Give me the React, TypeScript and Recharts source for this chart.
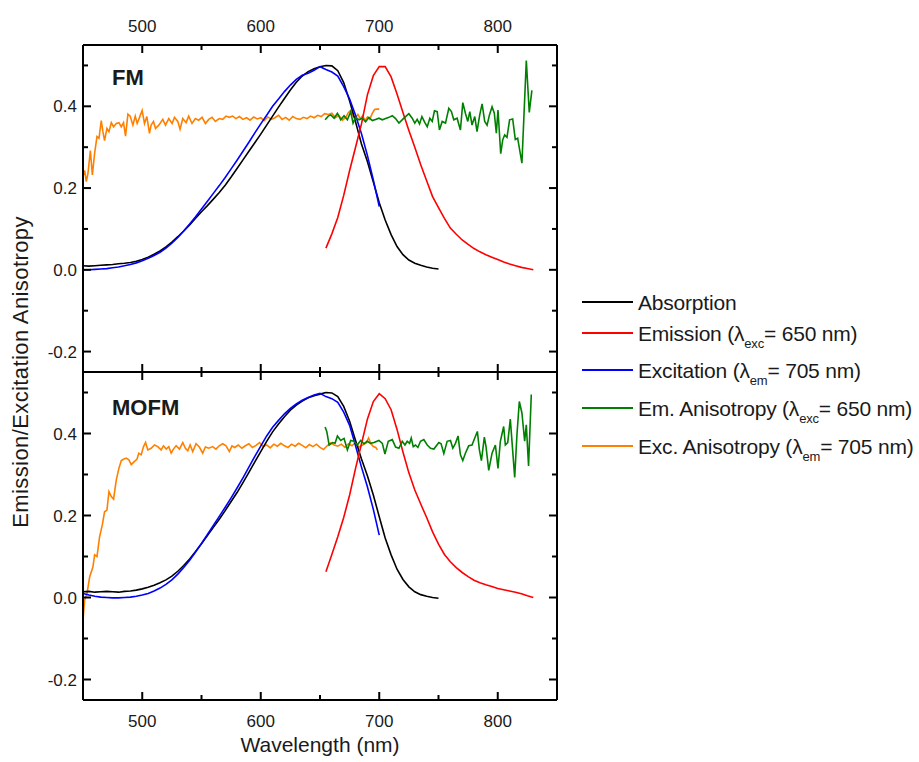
import React from "react";
import { LineChart, Line, XAxis, YAxis } from "recharts";

const FONT = "'Liberation Sans', Arial, sans-serif";
const INK = "#1a1a1a";

const X_MAJOR = [500, 600, 700, 800];
const X_MINOR = [550, 650, 750];
const Y_MAJOR = [-0.2, 0, 0.2, 0.4];
const Y_MINOR = [-0.1, 0.1, 0.3, 0.5];
const X_TICKS = [500, 550, 600, 650, 700, 750, 800];
const Y_TICKS = [-0.2, -0.1, 0, 0.1, 0.2, 0.3, 0.4, 0.5];

// wavelength grids (nm)
const WL_ABS = [450, 455, 460, 465, 470, 475, 480, 485, 490, 495, 500, 505, 510, 515, 520, 525, 530, 535, 540, 545, 550, 555, 560, 565, 570, 575, 580, 585, 590, 595, 600, 605, 610, 615, 620, 625, 630, 635, 640, 645, 650, 655, 660, 665, 670, 675, 680, 685, 690, 695, 700, 705, 710, 715, 720, 725, 730, 735, 740, 745, 750];
const WL_EXC = [450, 455, 460, 465, 470, 475, 480, 485, 490, 495, 500, 505, 510, 515, 520, 525, 530, 535, 540, 545, 550, 555, 560, 565, 570, 575, 580, 585, 590, 595, 600, 605, 610, 615, 620, 625, 630, 635, 640, 645, 650, 655, 660, 665, 670, 675, 680, 685, 690, 695, 700];
const WL_EMI = [655, 660, 665, 670, 675, 680, 685, 690, 695, 700, 705, 710, 715, 720, 725, 730, 735, 740, 745, 750, 755, 760, 765, 770, 775, 780, 785, 790, 795, 800, 805, 810, 815, 820, 825, 830];

// FM
const FM_ABS = [0.010, 0.009, 0.010, 0.011, 0.012, 0.013, 0.015, 0.016, 0.018, 0.021, 0.025, 0.031, 0.038, 0.046, 0.056, 0.068, 0.081, 0.095, 0.110, 0.126, 0.142, 0.157, 0.173, 0.189, 0.207, 0.227, 0.248, 0.269, 0.290, 0.311, 0.332, 0.354, 0.376, 0.398, 0.419, 0.440, 0.459, 0.474, 0.485, 0.492, 0.497, 0.500, 0.499, 0.487, 0.458, 0.413, 0.362, 0.308, 0.265, 0.215, 0.164, 0.122, 0.086, 0.057, 0.037, 0.024, 0.016, 0.011, 0.007, 0.004, 0.002];
const FM_EXC = [0.000, 0.000, 0.001, 0.002, 0.003, 0.005, 0.007, 0.010, 0.013, 0.017, 0.022, 0.028, 0.035, 0.043, 0.053, 0.065, 0.079, 0.095, 0.112, 0.130, 0.149, 0.168, 0.187, 0.206, 0.226, 0.247, 0.268, 0.290, 0.312, 0.335, 0.357, 0.378, 0.400, 0.418, 0.436, 0.452, 0.466, 0.476, 0.481, 0.488, 0.497, 0.490, 0.484, 0.474, 0.448, 0.418, 0.378, 0.333, 0.280, 0.220, 0.155];
const FM_EMI = [0.053, 0.088, 0.128, 0.182, 0.243, 0.300, 0.357, 0.428, 0.475, 0.497, 0.497, 0.472, 0.430, 0.385, 0.341, 0.300, 0.257, 0.218, 0.179, 0.152, 0.126, 0.102, 0.087, 0.073, 0.062, 0.052, 0.044, 0.037, 0.031, 0.025, 0.019, 0.014, 0.010, 0.006, 0.003, 0.000];
const FM_EMANI_WL = [654.3, 657, 659.1, 661.9, 664.7, 667.5, 670.3, 673.1, 675.9, 677.9, 680.1, 682.9, 685.7, 688.5, 691.3, 694.1, 696.9, 699.7, 702.6, 705.4, 708.2, 711, 713.8, 716.6, 720.8, 725, 727.8, 730, 732, 734, 736, 738.5, 740.5, 742.7, 744.7, 746.6, 748.9, 750.8, 753.1, 755.9, 758.7, 760.9, 762.9, 765.7, 768.5, 770.5, 772.7, 774.7, 776.4, 778.3, 780.6, 782.5, 784.8, 786.8, 789, 791, 793, 795.2, 797.1, 798.8, 800.2, 802.5, 804.2, 805.8, 807.8, 810, 812.6, 814.8, 816.8, 820.4, 824.1, 826.6, 828.8];
const FM_EMANI = [0.367, 0.376, 0.379, 0.371, 0.383, 0.367, 0.377, 0.367, 0.387, 0.359, 0.373, 0.367, 0.371, 0.362, 0.373, 0.365, 0.368, 0.371, 0.367, 0.370, 0.373, 0.377, 0.370, 0.359, 0.371, 0.382, 0.371, 0.359, 0.368, 0.357, 0.375, 0.360, 0.350, 0.371, 0.363, 0.389, 0.387, 0.342, 0.363, 0.359, 0.395, 0.387, 0.367, 0.371, 0.342, 0.409, 0.383, 0.363, 0.387, 0.354, 0.375, 0.338, 0.379, 0.406, 0.363, 0.354, 0.379, 0.399, 0.383, 0.334, 0.391, 0.284, 0.318, 0.330, 0.324, 0.367, 0.369, 0.319, 0.322, 0.261, 0.512, 0.385, 0.439];
const FM_EXANI_WL = [450, 451.4, 452.8, 454.2, 456.2, 457.9, 459.8, 461.8, 463.5, 465.4, 466.8, 468.2, 470.2, 471.9, 473.9, 475.8, 478.1, 480.3, 482.3, 484.2, 485.9, 487.9, 489.8, 492.1, 494.1, 495.7, 497.7, 499.9, 501.9, 503.9, 506.1, 507.5, 509.5, 511.2, 514, 517.3, 519.6, 522.4, 525.2, 527.2, 530, 531.9, 534.2, 537, 539.2, 542, 544.8, 547.6, 550.5, 553.3, 556.1, 558.9, 561.7, 565, 567.9, 570.7, 573.5, 576.3, 579, 582, 585, 588, 591, 594, 597, 600, 603, 606, 609, 612, 615, 618, 621, 624, 627, 630, 633, 636, 639, 642, 645, 648, 651, 654, 657, 660, 663, 666, 669, 672, 674, 676, 678, 680, 682, 684, 686, 688, 690, 692, 694, 696, 698, 700];
const FM_EXANI = [0.228, 0.243, 0.216, 0.236, 0.292, 0.232, 0.285, 0.326, 0.322, 0.365, 0.338, 0.316, 0.346, 0.338, 0.360, 0.350, 0.358, 0.360, 0.350, 0.360, 0.327, 0.381, 0.376, 0.354, 0.376, 0.358, 0.373, 0.390, 0.358, 0.375, 0.334, 0.354, 0.363, 0.346, 0.354, 0.368, 0.354, 0.370, 0.358, 0.373, 0.363, 0.344, 0.370, 0.360, 0.376, 0.358, 0.370, 0.366, 0.373, 0.358, 0.368, 0.373, 0.363, 0.370, 0.368, 0.376, 0.373, 0.376, 0.370, 0.375, 0.368, 0.372, 0.366, 0.374, 0.369, 0.372, 0.365, 0.374, 0.368, 0.372, 0.378, 0.368, 0.373, 0.366, 0.375, 0.370, 0.368, 0.373, 0.370, 0.376, 0.372, 0.378, 0.375, 0.382, 0.380, 0.383, 0.372, 0.378, 0.366, 0.374, 0.385, 0.390, 0.376, 0.372, 0.380, 0.370, 0.377, 0.365, 0.374, 0.368, 0.382, 0.392, 0.393, 0.393];

// MOFM
const MOFM_ABS = [0.014, 0.015, 0.013, 0.014, 0.015, 0.014, 0.013, 0.015, 0.016, 0.018, 0.021, 0.025, 0.030, 0.036, 0.043, 0.052, 0.064, 0.078, 0.094, 0.112, 0.131, 0.151, 0.171, 0.191, 0.212, 0.234, 0.256, 0.280, 0.305, 0.331, 0.356, 0.381, 0.404, 0.423, 0.441, 0.457, 0.469, 0.479, 0.487, 0.492, 0.496, 0.500, 0.499, 0.490, 0.466, 0.430, 0.383, 0.338, 0.297, 0.250, 0.197, 0.145, 0.104, 0.069, 0.044, 0.026, 0.014, 0.007, 0.003, 0.000, -0.002];
const MOFM_EXC = [0.010, 0.006, 0.003, 0.001, 0.000, -0.001, -0.001, 0.000, 0.001, 0.003, 0.006, 0.010, 0.016, 0.023, 0.032, 0.043, 0.057, 0.073, 0.091, 0.111, 0.132, 0.154, 0.176, 0.198, 0.220, 0.243, 0.267, 0.292, 0.318, 0.344, 0.369, 0.394, 0.415, 0.432, 0.448, 0.461, 0.472, 0.481, 0.488, 0.494, 0.498, 0.490, 0.485, 0.476, 0.452, 0.420, 0.370, 0.318, 0.270, 0.215, 0.152];
const MOFM_EMI = [0.063, 0.105, 0.148, 0.195, 0.250, 0.315, 0.375, 0.435, 0.478, 0.497, 0.485, 0.458, 0.410, 0.355, 0.304, 0.262, 0.228, 0.195, 0.160, 0.130, 0.105, 0.087, 0.073, 0.061, 0.051, 0.042, 0.036, 0.031, 0.027, 0.022, 0.019, 0.016, 0.013, 0.009, 0.004, 0.000];
const MOFM_EMANI_WL = [654.3, 655.7, 657.7, 660.5, 662.7, 664.7, 667.5, 670.3, 673.1, 675.9, 678.7, 681.5, 684.3, 687.1, 689.9, 692.7, 695.5, 699.7, 702.6, 704.8, 707.6, 711, 713.8, 716.6, 719.4, 721.7, 723.6, 725.6, 727, 728.7, 730.6, 732.6, 734.8, 737.6, 740.5, 743.3, 746.1, 750.3, 752.2, 754.5, 757.3, 760.1, 762.1, 764.3, 766.5, 768.5, 770.5, 772.7, 775.5, 778.3, 780.6, 782.8, 784.5, 786.2, 788.7, 790.1, 792.4, 795.2, 798, 800.2, 802.2, 805, 806.4, 808.4, 810.6, 814.3, 816.2, 818.2, 820.4, 822.7, 824.1, 826, 828.3];
const MOFM_EMANI = [0.416, 0.405, 0.372, 0.378, 0.376, 0.394, 0.383, 0.388, 0.360, 0.383, 0.381, 0.372, 0.383, 0.375, 0.381, 0.376, 0.378, 0.383, 0.376, 0.350, 0.381, 0.385, 0.367, 0.364, 0.381, 0.372, 0.381, 0.376, 0.389, 0.368, 0.372, 0.366, 0.381, 0.385, 0.372, 0.364, 0.362, 0.378, 0.375, 0.351, 0.381, 0.383, 0.364, 0.376, 0.394, 0.348, 0.334, 0.352, 0.370, 0.372, 0.389, 0.405, 0.360, 0.334, 0.391, 0.368, 0.310, 0.352, 0.372, 0.315, 0.381, 0.417, 0.372, 0.378, 0.435, 0.293, 0.397, 0.478, 0.450, 0.381, 0.421, 0.321, 0.495];
const MOFM_EXANI_WL = [450, 451.4, 453.4, 455.6, 458.4, 459.8, 461.8, 464, 466.3, 468.2, 470.2, 471.9, 473.9, 475.8, 478.1, 480.3, 482.3, 484.2, 486.5, 488.7, 490.7, 493.5, 495.5, 497.1, 499.1, 501.1, 502.8, 504.7, 507.5, 510.3, 513.1, 515.9, 517.9, 520.2, 522.4, 524.4, 526.3, 528.6, 531.4, 534.2, 536.4, 538.4, 540.4, 542.6, 545.4, 548.2, 551, 553.3, 556.1, 559.4, 562.2, 565, 567.9, 570.7, 573.5, 575.7, 578, 581, 584, 587, 590, 593, 596, 599, 602, 605, 608, 611, 614, 617, 620, 623, 626, 629, 632, 635, 638, 641, 644, 647, 650, 653, 656, 659, 662, 665, 668, 671, 674, 677, 680, 683, 686, 689, 691, 693, 695, 697, 698.5];
const MOFM_EXANI = [-0.055, -0.006, 0.010, 0.050, 0.075, 0.104, 0.100, 0.148, 0.177, 0.209, 0.213, 0.258, 0.246, 0.240, 0.287, 0.315, 0.334, 0.337, 0.340, 0.336, 0.324, 0.332, 0.337, 0.352, 0.348, 0.368, 0.378, 0.360, 0.364, 0.372, 0.368, 0.360, 0.370, 0.362, 0.368, 0.352, 0.362, 0.370, 0.362, 0.378, 0.364, 0.358, 0.372, 0.356, 0.375, 0.367, 0.352, 0.367, 0.364, 0.368, 0.362, 0.370, 0.375, 0.370, 0.356, 0.370, 0.366, 0.372, 0.364, 0.370, 0.375, 0.366, 0.371, 0.378, 0.368, 0.372, 0.365, 0.374, 0.369, 0.376, 0.370, 0.366, 0.374, 0.369, 0.376, 0.371, 0.365, 0.373, 0.368, 0.374, 0.366, 0.361, 0.370, 0.377, 0.372, 0.369, 0.374, 0.366, 0.375, 0.370, 0.378, 0.367, 0.372, 0.377, 0.389, 0.375, 0.368, 0.366, 0.360];

const COLORS = { abs: "#000000", emi: "#ff0000", exc: "#0000ff", emAni: "#008000", exAni: "#ff8000" };

const pts = (wl: number[], v: number[]) => wl.map((w, i) => ({ w, v: v[i] }));

const xTick = (side: "top" | "bottom", labelled: boolean) => (props: any) => {
  const { x, y, payload } = props;
  const val = payload.value;
  const major = X_MAJOR.includes(val);
  const len = major ? 8 : 5;
  const dir = side === "top" ? 1 : -1;
  return (
    <g>
      <line x1={x} x2={x} y1={y} y2={y + dir * len} stroke="#000" strokeWidth={2} />
      {labelled && major && (
        <text x={x} y={side === "top" ? y - 13 : y + 27} textAnchor="middle" fontSize={17} fontFamily={FONT} fill={INK}>
          {val}
        </text>
      )}
    </g>
  );
};

const yTick = (side: "left" | "right") => (props: any) => {
  const { x, y, payload } = props;
  const val = payload.value;
  const major = Y_MAJOR.includes(val);
  const len = major ? 8 : 5;
  const dir = side === "left" ? 1 : -1;
  return (
    <g>
      <line x1={x} x2={x + dir * len} y1={y} y2={y} stroke="#000" strokeWidth={2} />
      {side === "left" && major && (
        <text x={x - 6} y={y + 6} textAnchor="end" fontSize={17} fontFamily={FONT} fill={INK}>
          {val.toFixed(1)}
        </text>
      )}
    </g>
  );
};

interface PanelProps {
  top: number;
  bottom: number;
  labelSide: "top" | "bottom";
  abs: number[];
  exc: number[];
  emi: number[];
  emAniWl: number[];
  emAni: number[];
  exAniWl: number[];
  exAni: number[];
}

// axes are 1px thick so the margins below put the plot box at x 83..557
const Panel: React.FC<PanelProps> = (p) => {
  const axisLine = { stroke: "#000", strokeWidth: 2 };
  const lines = [
    { key: "exAni", data: pts(p.exAniWl, p.exAni), color: COLORS.exAni },
    { key: "abs", data: pts(WL_ABS, p.abs), color: COLORS.abs },
    { key: "exc", data: pts(WL_EXC, p.exc), color: COLORS.exc },
    { key: "emi", data: pts(WL_EMI, p.emi), color: COLORS.emi },
    { key: "emAni", data: pts(p.emAniWl, p.emAni), color: COLORS.emAni },
  ];
  return (
    <div style={{ position: "absolute", left: 0, top: 0 }}>
      <LineChart width={919} height={762} margin={{ top: p.top - 1, right: 361, bottom: p.bottom - 1, left: 82 }}>
        <XAxis xAxisId="b" dataKey="w" type="number" domain={[450, 850]} allowDataOverflow ticks={X_TICKS} interval={0}
          height={1} tickSize={0} tickMargin={0} tickLine={false} axisLine={axisLine}
          tick={xTick("bottom", p.labelSide === "bottom")} />
        <XAxis xAxisId="t" orientation="top" dataKey="w" type="number" domain={[450, 850]} allowDataOverflow ticks={X_TICKS} interval={0}
          height={1} tickSize={0} tickMargin={0} tickLine={false} axisLine={axisLine}
          tick={xTick("top", p.labelSide === "top")} />
        <YAxis yAxisId="l" type="number" domain={[-0.25, 0.55]} allowDataOverflow ticks={Y_TICKS} interval={0}
          width={1} tickSize={0} tickMargin={0} tickLine={false} axisLine={axisLine} tick={yTick("left")} />
        <YAxis yAxisId="r" orientation="right" type="number" domain={[-0.25, 0.55]} allowDataOverflow ticks={Y_TICKS} interval={0}
          width={1} tickSize={0} tickMargin={0} tickLine={false} axisLine={axisLine} tick={yTick("right")} />
        {lines.map((l) => (
          <Line key={l.key} xAxisId="b" yAxisId="l" data={l.data} dataKey="v" type="linear" stroke={l.color}
            strokeWidth={1.6} dot={false} activeDot={false} isAnimationActive={false} />
        ))}
      </LineChart>
    </div>
  );
};

const LEGEND = [
  { label: "Absorption", sub: "", rest: "", color: COLORS.abs, y: 302 },
  { label: "Emission (\u03bb", sub: "exc", rest: "= 650 nm)", color: COLORS.emi, y: 333 },
  { label: "Excitation (\u03bb", sub: "em", rest: "= 705 nm)", color: COLORS.exc, y: 370 },
  { label: "Em. Anisotropy (\u03bb", sub: "exc", rest: "= 650 nm)", color: COLORS.emAni, y: 408 },
  { label: "Exc. Anisotropy (\u03bb", sub: "em", rest: "= 705 nm)", color: COLORS.exAni, y: 446 },
];

export default function App() {
  return (
    <div style={{ position: "absolute", left: 0, top: 0, width: 919, height: 762, background: "#fff", fontFamily: FONT }}>
      <Panel top={45} bottom={390} labelSide="top" abs={FM_ABS} exc={FM_EXC} emi={FM_EMI}
        emAniWl={FM_EMANI_WL} emAni={FM_EMANI} exAniWl={FM_EXANI_WL} exAni={FM_EXANI} />
      <Panel top={372} bottom={62} labelSide="bottom" abs={MOFM_ABS} exc={MOFM_EXC} emi={MOFM_EMI}
        emAniWl={MOFM_EMANI_WL} emAni={MOFM_EMANI} exAniWl={MOFM_EXANI_WL} exAni={MOFM_EXANI} />
      <svg width={919} height={762} style={{ position: "absolute", left: 0, top: 0, pointerEvents: "none" }}>
        <text x={112} y={85} fontSize={22} fontWeight="bold" fontFamily={FONT} fill={INK}>FM</text>
        <text x={112} y={415} fontSize={22} fontWeight="bold" fontFamily={FONT} fill={INK}>MOFM</text>
        <text x={320} y={752} textAnchor="middle" fontSize={21} fontFamily={FONT} fill={INK}>Wavelength (nm)</text>
        <text x={28} y={372} textAnchor="middle" fontSize={22} letterSpacing={0.4} fontFamily={FONT} fill={INK}
          transform="rotate(-90 28 372)">
          Emission/Excitation Anisotropy
        </text>
        {LEGEND.map((l) => (
          <g key={l.label}>
            <line x1={582} x2={633} y1={l.y} y2={l.y} stroke={l.color} strokeWidth={2} />
            <text x={638} y={l.y + 8} fontSize={21} letterSpacing={-0.2} fontFamily={FONT} fill={INK}>
              <tspan>{l.label}</tspan>
              {l.sub && <tspan dy={7} fontSize={13}>{l.sub}</tspan>}
              {l.sub && <tspan dy={-7}>{l.rest}</tspan>}
            </text>
          </g>
        ))}
      </svg>
    </div>
  );
}
